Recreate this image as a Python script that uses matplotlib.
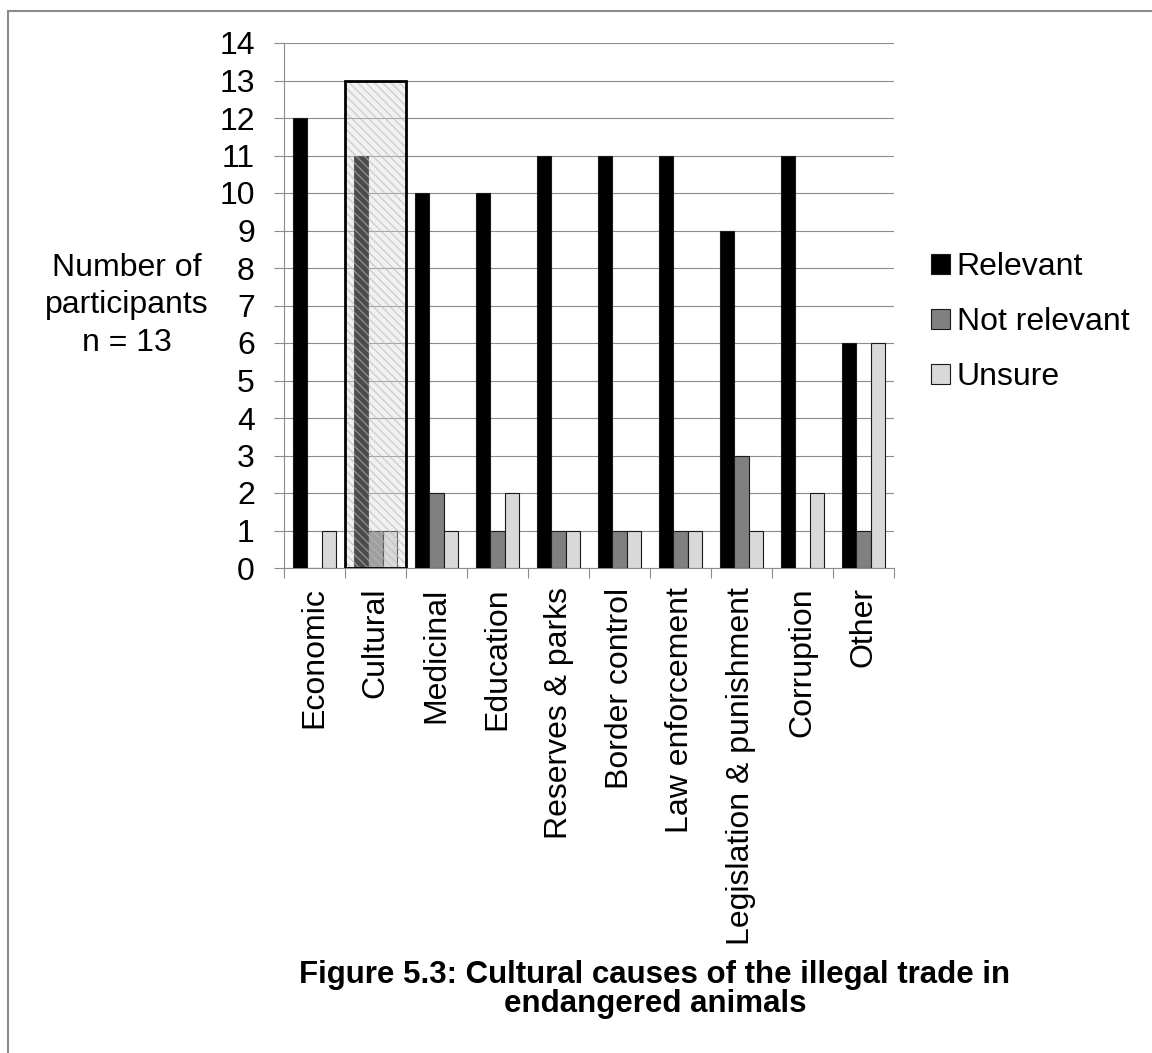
import matplotlib
matplotlib.use("Agg")
import matplotlib.pyplot as plt
import numpy as np
from matplotlib.patches import Rectangle
from matplotlib.lines import Line2D

plt.rcParams['font.family'] = ['Liberation Sans', 'DejaVu Sans']

# Survey responses per cause
categories = ["Economic", "Cultural", "Medicinal", "Education", "Reserves & parks",
              "Border control", "Law enforcement", "Legislation & punishment",
              "Corruption", "Other"]
relevant = [12, 11, 10, 10, 11, 11, 11, 9, 11, 6]
not_relevant = [0, 1, 2, 1, 1, 1, 1, 3, 0, 1]
unsure = [1, 1, 1, 2, 1, 1, 1, 1, 2, 6]
series_names = ["Relevant", "Not relevant", "Unsure"]
series_colors = ["#000000", "#808080", "#d9d9d9"]
y_ticks = list(range(0, 15))
n_participants = 13
highlight_category = "Cultural"
ylabel_lines = ["Number of", "participants", "n = " + str(n_participants)]
title_lines = ["Figure 5.3: Cultural causes of the illegal trade in", "endangered animals"]

W, H = 1152, 1053
fs = 23

fig = plt.figure(figsize=(W / 100, H / 100), dpi=100)
ax = fig.add_axes([284 / W, 1 - 568 / H, 610 / W, 525 / H])

x = np.arange(len(categories))
bw = 0.23
grid_col = "#8c8c8c"

for i, (vals, col, name) in enumerate(zip([relevant, not_relevant, unsure], series_colors, series_names)):
    ax.bar(x + (i - 1) * bw, vals, width=bw, color=col, edgecolor="#1a1a1a",
           linewidth=0.8, label=name, zorder=3)

ax.set_xlim(-0.5, len(categories) - 0.5)
ax.set_ylim(0, y_ticks[-1])
ax.set_yticks(y_ticks)
ax.yaxis.grid(True, color=grid_col, linewidth=0.8, zorder=0)
ax.set_axisbelow(True)

for s in ("top", "right"):
    ax.spines[s].set_visible(False)
for s in ("left", "bottom"):
    ax.spines[s].set_color(grid_col)
    ax.spines[s].set_linewidth(0.8)

# category boundaries carry the tick marks, centres carry the labels
ax.set_xticks(np.arange(-0.5, len(categories), 1.0))
ax.set_xticklabels([])
ax.set_xticks(x, minor=True)
ax.set_xticklabels(categories, minor=True, rotation=90, fontsize=fs, va="top", ha="center")
ax.tick_params(axis="x", which="major", length=7, width=0.8, color=grid_col, direction="out")
ax.tick_params(axis="x", which="minor", length=0, pad=14)
ax.tick_params(axis="y", length=7, width=0.8, color=grid_col, direction="out",
               labelsize=fs, pad=14)

# highlighted category: shaded, hatched frame up to the sample size
hx = categories.index(highlight_category)
ax.add_patch(Rectangle((hx - 0.5, 0), 1.0, n_participants, facecolor=(0.85, 0.85, 0.85, 0.35),
                       edgecolor=(0.72, 0.72, 0.72, 0.6), hatch="\\\\\\\\", linewidth=0, zorder=4))
ax.add_patch(Rectangle((hx - 0.5, 0), 1.0, n_participants, facecolor="none",
                       edgecolor="#000000", linewidth=2.0, zorder=5))

fig.legend(loc="center left", bbox_to_anchor=(931 / W, 1 - 322 / H),
           frameon=False, fontsize=fs, handlelength=0.6, handleheight=0.6,
           handletextpad=0.2, labelspacing=0.78, borderpad=0, borderaxespad=0)

for line, base in zip(ylabel_lines, [276, 313, 351]):
    fig.text(127 / W, 1 - base / H, line, ha="center", va="baseline", fontsize=fs)

for line, base in zip(title_lines, [983, 1012]):
    fig.text(655 / W, 1 - base / H, line, ha="center", va="baseline",
             fontsize=22.5, fontweight="bold")

# page frame (left and top edges)
fig.add_artist(Line2D([8 / W, 8 / W], [0, 1 - 11 / H], transform=fig.transFigure,
                      color="#8c8c8c", linewidth=1.5))
fig.add_artist(Line2D([8 / W, 1], [1 - 11 / H, 1 - 11 / H], transform=fig.transFigure,
                      color="#8c8c8c", linewidth=1.5))

fig.savefig("out.png", dpi=100)
